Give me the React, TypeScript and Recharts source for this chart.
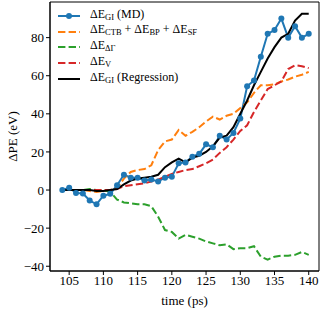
import { LineChart, Line, XAxis, YAxis, ReferenceArea, Legend } from 'recharts';

const times = [104, 105, 106, 107, 108, 109, 110, 111, 112, 113, 114, 115, 116, 117, 118, 119, 120, 121, 122, 123, 124, 125, 126, 127, 128, 129, 130, 131, 132, 133, 134, 135, 136, 137, 138, 139, 140];

const giMD = [0, 1.2, -1.5, -1.8, -5.5, -7.5, -3, -2, 2.5, 8, 6.5, 6.5, 5, 5.5, 4.5, 6.5, 7, 14, 14.5, 17.5, 19, 24, 22.5, 28.5, 26.5, 30, 37.5, 54.5, 57.5, 70, 82, 84, 90, 80, 86, 80, 82];
const ctbBpSf = [0, 0, 0, 0, -0.5, -1, -0.5, 0, 1, 6, 9.5, 10.5, 11, 13, 21, 25.5, 26.5, 31.5, 28.5, 30.5, 33, 36, 38.5, 37, 39, 40, 43, 46, 51, 55, 55, 55.5, 57, 58, 59.5, 60.5, 62];
const dGamma = [0, 0, 0, 0, 0.5, 0, 0, -1, -5, -6.5, -7, -7.5, -7.5, -8.5, -14, -21, -22, -25.5, -23.5, -24.5, -25.5, -27, -28, -29, -28.5, -31, -30.5, -30.5, -29.5, -35, -36.5, -35, -34.5, -34.5, -34, -32.5, -34];
const eV = [0, 0, 0, 0, 0, 0, 0, 0, 0.5, 2, 2.5, 3, 3.5, 4.5, 5.5, 7, 8.5, 9.5, 10.5, 11, 12.5, 14, 16, 19.5, 22.5, 26.5, 31, 34, 41, 47, 53, 55, 57, 63.5, 65.5, 65, 64];
const giRegression = [0, 0, 0, 0, 0, -0.5, -0.5, 0, 0.5, 3, 5, 6, 6.5, 7, 8, 12, 14.5, 16.5, 14.5, 17, 18, 20, 23, 27.5, 28.5, 33, 40, 47, 55, 62, 69, 75, 80, 82, 89, 92.5, 92.5];

const xTicks = [105, 110, 115, 120, 125, 130, 135, 140];
const yTicks = [-40, -20, 0, 20, 40, 60, 80];
const X_DOMAIN: [number, number] = [102.2, 141.5];
const Y_DOMAIN: [number, number] = [-42.5, 98.7];

const data = times.map((t, i) => ({
    t,
    giMD: giMD[i],
    ctbBpSf: ctbBpSf[i],
    dGamma: dGamma[i],
    eV: eV[i],
    giRegression: giRegression[i],
}));

const FONT = 'Liberation Serif';
const DASH = '7.4 3.2';

// legend rows: colour, dash, and the label split into [text, subscript] pieces
const legendRows = [
    { color: '#1f77b4', dashed: false, marker: true, parts: [['ΔE', 'GI'], [' (MD)', '']] },
    { color: '#ff7f0e', dashed: true, marker: false, parts: [['ΔE', 'CTB'], [' + ΔE', 'BP'], [' + ΔE', 'SF']] },
    { color: '#2ca02c', dashed: true, marker: false, parts: [['ΔE', 'ΔΓ']] },
    { color: '#d62728', dashed: true, marker: false, parts: [['ΔE', 'V']] },
    { color: '#000000', dashed: false, marker: false, parts: [['ΔE', 'GI'], [' (Regression)', '']] },
];

const minus = (v: number) => (v < 0 ? `\u2212${Math.abs(v)}` : `${v}`);

function LegendBox() {
    return (
        <div style={{ fontFamily: FONT, fontSize: 12, fontWeight: 400, color: '#000', lineHeight: '15.8px' }}>
            {legendRows.map((row, i) => (
                <div key={i} style={{ display: 'flex', alignItems: 'center', height: 15.8 }}>
                    <svg width={24} height={10} style={{ marginRight: 9 }}>
                        <line x1={1} x2={23} y1={5} y2={5} stroke={row.color} strokeWidth={2}
                            strokeDasharray={row.dashed ? DASH : undefined} />
                        {row.marker && <circle cx={12} cy={5} r={3} fill={row.color} />}
                    </svg>
                    <span style={{ whiteSpace: 'pre' }}>
                        {row.parts.map(([main, sub], j) => (
                            <span key={j}>
                                {main}
                                {sub && <sub style={{ fontSize: 8.5, verticalAlign: -2 }}>{sub}</sub>}
                            </span>
                        ))}
                    </span>
                </div>
            ))}
        </div>
    );
}

export default function App() {
    return (
        <div style={{ position: 'fixed', left: 0, top: 0, width: 322, height: 309, background: '#fff', fontFamily: FONT }}>
            <LineChart width={322} height={309} data={data} margin={{ top: 2, right: 3, bottom: 0, left: 0 }}>
                <XAxis
                    dataKey="t"
                    type="number"
                    domain={X_DOMAIN}
                    ticks={xTicks}
                    allowDataOverflow
                    height={38}
                    tickSize={4}
                    tickMargin={1}
                    stroke="#000"
                    tick={{ fill: '#000', fontSize: 13, fontFamily: FONT }}
                    label={{ value: 'time (ps)', position: 'insideBottom', offset: 4, fill: '#000', fontSize: 13, fontFamily: FONT }}
                />
                <YAxis
                    type="number"
                    domain={Y_DOMAIN}
                    ticks={yTicks}
                    allowDataOverflow
                    width={50}
                    tickSize={4}
                    tickMargin={2}
                    stroke="#000"
                    tickFormatter={minus}
                    tick={{ fill: '#000', fontSize: 13, fontFamily: FONT }}
                    label={{ value: 'ΔPE (eV)', angle: -90, position: 'insideLeft', offset: 12, fill: '#000', fontSize: 13, fontFamily: FONT, style: { textAnchor: 'middle' } }}
                />
                <ReferenceArea x1={X_DOMAIN[0]} x2={X_DOMAIN[1]} y1={Y_DOMAIN[0]} y2={Y_DOMAIN[1]}
                    fill="none" stroke="#000" strokeWidth={1} ifOverflow="visible" />
                <Line dataKey="giMD" stroke="#1f77b4" strokeWidth={2} dot={{ r: 3, fill: '#1f77b4', stroke: '#1f77b4', strokeWidth: 0 }} isAnimationActive={false} />
                <Line dataKey="ctbBpSf" stroke="#ff7f0e" strokeWidth={2} strokeDasharray={DASH} dot={false} isAnimationActive={false} />
                <Line dataKey="dGamma" stroke="#2ca02c" strokeWidth={2} strokeDasharray={DASH} dot={false} isAnimationActive={false} />
                <Line dataKey="eV" stroke="#d62728" strokeWidth={2} strokeDasharray={DASH} dot={false} isAnimationActive={false} />
                <Line dataKey="giRegression" stroke="#000" strokeWidth={2} dot={false} isAnimationActive={false} />
                <Legend
                    layout="horizontal"
                    verticalAlign="middle"
                    align="center"
                    content={() => <LegendBox />}
                    wrapperStyle={{ position: 'absolute', left: 57, top: 8, width: 'auto', height: 'auto' }}
                />
            </LineChart>
        </div>
    );
}
